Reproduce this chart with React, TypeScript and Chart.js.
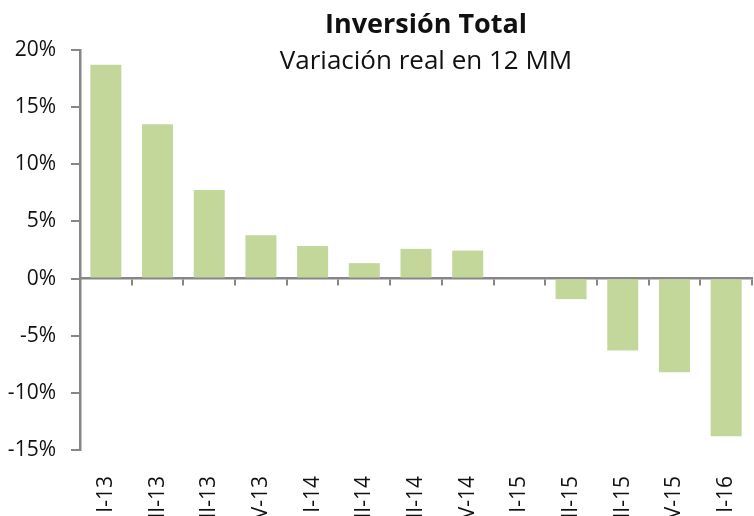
import React, { useEffect, useRef } from "react";
import { Chart, registerables } from "chart.js";

Chart.register(...registerables);

const categories = ["I-13", "II-13", "III-13", "V-13", "I-14", "II-14", "III-14", "V-14", "I-15", "II-15", "III-15", "V-15", "I-16"];
const values = [18.7, 13.5, 7.75, 3.8, 2.85, 1.35, 2.6, 2.45, 0, -1.8, -6.3, -8.2, -13.8];
const yMin = -15;
const yMax = 20;
const yStep = 5;
const titleText = "Inversión Total";
const subtitleText = "Variación real en 12 MM";

const FONT = "'Open Sans', sans-serif";
const AXIS = "#868686";

const titlePlugin = {
  id: "overlayTitle",
  afterDraw(chart: any) {
    const ctx = chart.ctx;
    const area = chart.chartArea;
    const cx = (area.left + area.right) / 2 + 10;
    ctx.save();
    ctx.fillStyle = "#111";
    ctx.textAlign = "center";
    ctx.textBaseline = "alphabetic";
    ctx.font = `bold 27px ${FONT}`;
    ctx.fillText(titleText, cx, 33);
    ctx.font = `26px ${FONT}`;
    ctx.fillText(subtitleText, cx, 69);
    ctx.restore();
  },
};

export default function App() {
  const ref = useRef<HTMLCanvasElement>(null);
  useEffect(() => {
    if (!ref.current) return;
    const chart = new Chart(ref.current, {
      type: "bar",
      data: {
        labels: categories,
        datasets: [
          {
            data: values,
            backgroundColor: "#C4D79B",
            borderWidth: 0,
            barPercentage: 0.6,
            categoryPercentage: 1,
            xAxisID: "x",
            yAxisID: "y",
          },
        ],
      },
      options: {
        animation: false,
        responsive: true,
        maintainAspectRatio: false,
        layout: { padding: { top: 50, right: 2, left: 0, bottom: 0 } },
        plugins: {
          legend: { display: false },
          title: { display: false },
          tooltip: { enabled: false },
        },
        scales: {
          x: {
            type: "category",
            position: "bottom",
            offset: true,
            grid: { display: false, offset: true },
            border: { display: false },
            ticks: {
              minRotation: 90,
              maxRotation: 90,
              autoSkip: false,
              padding: 18,
              color: "#111",
              font: { family: FONT, size: 21 },
            },
            afterFit: (s: any) => {
              s.height = 66;
              s.paddingLeft = 0;
              s.paddingRight = 0;
            },
          },
          x2: {
            type: "category",
            labels: categories,
            position: { y: 0 } as any,
            offset: true,
            grid: {
              display: true,
              offset: true,
              drawOnChartArea: false,
              drawTicks: true,
              tickLength: 6,
              color: AXIS,
              lineWidth: 2,
            },
            border: { display: true, color: AXIS, width: 2.5 },
            ticks: { display: false },
            afterFit: (s: any) => {
              s.paddingLeft = 0;
              s.paddingRight = 0;
            },
          },
          y: {
            min: yMin,
            max: yMax,
            grid: {
              display: true,
              drawOnChartArea: false,
              drawTicks: true,
              tickLength: 9,
              color: AXIS,
              lineWidth: 2,
            },
            border: { display: true, color: AXIS, width: 2.5 },
            ticks: {
              stepSize: yStep,
              padding: 15,
              color: "#111",
              font: { family: FONT, size: 21 },
              callback: (v: any) => `${v}%`,
            },
            afterFit: (s: any) => {
              s.width = 80;
            },
          },
        },
      },
      plugins: [titlePlugin],
    });
    return () => chart.destroy();
  }, []);
  return (
    <div style={{ position: "fixed", left: 0, top: 0, width: 754, height: 516, background: "#fff" }}>
      <canvas ref={ref} />
    </div>
  );
}
